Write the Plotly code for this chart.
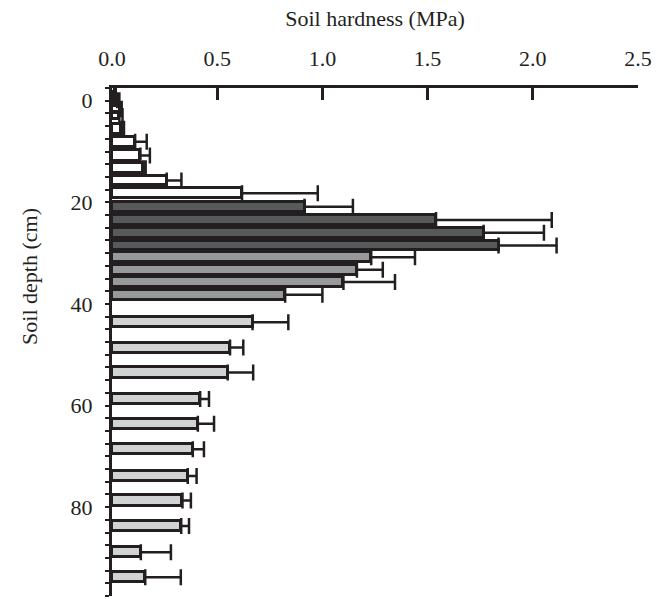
import plotly.graph_objects as go

# ---- data ----
depth_white = [-1.3, -0.1, 1.6, 3.0, 5.5, 8.1, 10.8, 13.3, 15.7, 18.2]
hard_white = [0.010, 0.025, 0.038, 0.035, 0.045, 0.110, 0.135, 0.148, 0.260, 0.618]
err_white = [0.008, 0.010, 0.008, 0.015, 0.012, 0.055, 0.045, 0.012, 0.070, 0.360]

depth_dark = [20.9, 23.5, 26.0, 28.5]
hard_dark = [0.915, 1.540, 1.766, 1.837]
err_dark = [0.230, 0.550, 0.287, 0.276]

depth_mid = [30.8, 33.3, 35.7, 38.2]
hard_mid = [1.232, 1.164, 1.100, 0.823]
err_mid = [0.208, 0.123, 0.245, 0.177]

depth_light = [43.6, 48.6, 53.5, 58.7, 63.6, 68.6, 73.9, 78.7, 83.7, 88.9, 93.8]
hard_light = [0.668, 0.561, 0.550, 0.419, 0.408, 0.384, 0.360, 0.335, 0.329, 0.137, 0.158]
err_light = [0.170, 0.063, 0.121, 0.042, 0.077, 0.053, 0.042, 0.040, 0.037, 0.143, 0.169]

x_ticks = [0.0, 0.5, 1.0, 1.5, 2.0, 2.5]
y_ticks = [0, 20, 40, 60, 80]

INK = "#231f20"
FONT = "Liberation Serif"
FS = 22
BAR_W = 2.0

all_depths = sorted(depth_white + depth_dark + depth_mid + depth_light)


def widths(depths):
    out = []
    for d in depths:
        i = all_depths.index(d)
        gaps = []
        if i > 0:
            gaps.append(d - all_depths[i - 1])
        if i < len(all_depths) - 1:
            gaps.append(all_depths[i + 1] - d)
        out.append(min(BAR_W, 0.8 * min(gaps)))
    return out


fig = go.Figure()
for depths, vals, errs, color in [
    (depth_white, hard_white, err_white, "#ffffff"),
    (depth_dark, hard_dark, err_dark, "#57595b"),
    (depth_mid, hard_mid, err_mid, "#97999b"),
    (depth_light, hard_light, err_light, "#d1d2d3"),
]:
    fig.add_trace(go.Bar(
        y=depths, x=vals, orientation="h", width=widths(depths),
        marker=dict(color=color, line=dict(color=INK, width=3)),
        error_x=dict(type="data", array=errs, arrayminus=[0] * len(errs),
                     symmetric=False, color=INK, thickness=2.5, width=8),
        showlegend=False,
    ))

fig.update_layout(
    width=665, height=599,
    margin=dict(l=112, r=27, t=88, b=3),
    paper_bgcolor="white", plot_bgcolor="white",
    font=dict(family=FONT, size=FS, color=INK),
    bargap=0,
)
fig.update_xaxes(
    side="top", range=[0, 2.5], tickvals=x_ticks, tickformat=".1f",
    ticks="inside", ticklen=12, tickwidth=2.5, tickcolor=INK,
    showline=True, linewidth=3, linecolor=INK, showgrid=False, zeroline=False,
    ticklabelstandoff=10,
    title=dict(text="Soil hardness (MPa)", standoff=14, font=dict(family=FONT, size=FS)),
)
fig.update_yaxes(
    range=[97.5, -2.5], tickvals=y_ticks,
    ticks="outside", ticklen=4, tickwidth=2, tickcolor=INK,
    minor=dict(tickvals=[-2.5 + 2.5 * k for k in range(41)], ticks="outside",
               ticklen=4, tickwidth=2, tickcolor=INK),
    showline=True, linewidth=3, linecolor=INK, showgrid=False, zeroline=False,
    ticklabelstandoff=8,
)
fig.add_annotation(
    text="Soil depth (cm)", textangle=-90, xref="paper", yref="paper",
    x=-0.156, y=0.63, xanchor="center", yanchor="middle", showarrow=False,
    font=dict(family=FONT, size=FS, color=INK),
)
fig.write_html("out.html")
